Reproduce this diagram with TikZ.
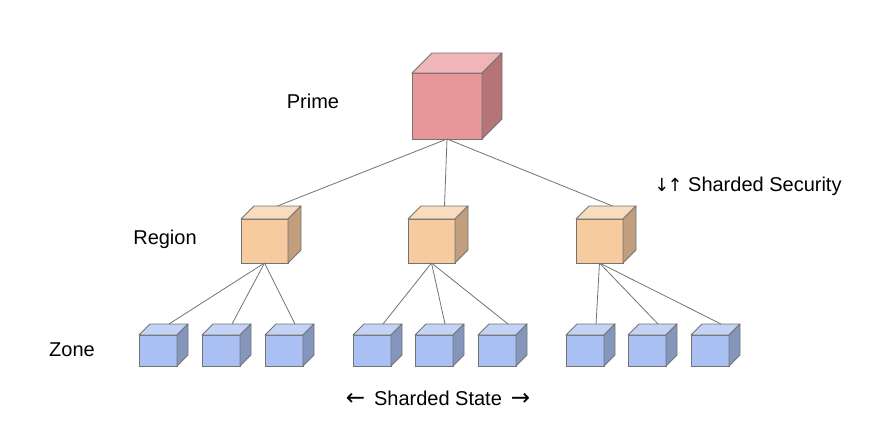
\documentclass[tikz,border=0pt]{standalone}
\usepackage{fontspec}
\setmainfont{Liberation Sans}
\newfontfamily\arrowfont{DejaVu Sans}
\definecolor{primefill}{RGB}{232,150,154}
\definecolor{regionfill}{RGB}{247,203,160}
\definecolor{zonefill}{RGB}{170,192,242}
\definecolor{edgegray}{RGB}{115,115,115}
\tikzset{
    cubeface/.style={draw=edgegray, line width=0.9pt, inner sep=0pt, outer sep=0pt, anchor=north west},
    cubeedge/.style={draw=edgegray, line width=0.9pt, line join=round},
    link/.style={draw=edgegray, line width=0.8pt},
    lbl/.style={font=\fontsize{20}{24}\selectfont, inner sep=0pt}
}
% #1 name, #2 x, #3 y, #4 width, #5 height, #6 depth, #7 colour
\newcommand{\drawcube}[7]{%
    \node[cubeface, fill=#7, minimum width=#4pt, minimum height=#5pt] (#1) at (#2,#3) {};
    \filldraw[cubeedge, fill=#7!70!white] (#1.north west) -- ++(#6,-#6) -- ++(#4,0) -- (#1.north east) -- cycle;
    \filldraw[cubeedge, fill=#7!78!black] (#1.north east) -- ++(#6,-#6) -- ++(0,#5) -- (#1.south east) -- cycle;
    \coordinate (#1-back) at ([shift={(#6,-#6)}]#1.north);
}
\newcommand{\arr}[2][18]{{\arrowfont\fontsize{#1}{24}\selectfont #2}}
\begin{document}
\begin{tikzpicture}[x=1pt,y=-1pt]
    \useasboundingbox (0,0) rectangle (877,439);
    % cubes
    \drawcube{prime}{412}{73}{70}{66}{20}{primefill}
    \foreach \n/\x in {1/241,2/408,3/576}{
        \drawcube{r\n}{\x}{219}{47}{44}{13}{regionfill}}
    \foreach \n/\x in {1/139,2/202,3/265,4/353,5/415,6/478,7/566,8/628,9/691}{
        \drawcube{z\n}{\x}{335}{38}{31}{11}{zonefill}}
    % links
    \foreach \n in {1,2,3}
        \draw[link] (prime.south) -- (r\n-back);
    \foreach \z in {1,2,3}
        \draw[link] (r1.south) -- (z\z-back);
    \foreach \z in {4,5,6}
        \draw[link] (r2.south) -- (z\z-back);
    \foreach \z in {7,8,9}
        \draw[link] (r3.south) -- (z\z-back);
    % labels
    \node[lbl] (primelbl) at (313,101) {Prime};
    \node[lbl] (regionlbl) at (165,239) {Region};
    \node[lbl] (zonelbl) at (72,350) {Zone};
    \node[lbl] (security) at (748,186) {\arr{↓\kern-2pt↑} Sharded Security};
    \node[lbl] (state) at (438,398) {\arr[23]{←}\, Sharded State \,\arr[23]{→}};
\end{tikzpicture}
\end{document}
